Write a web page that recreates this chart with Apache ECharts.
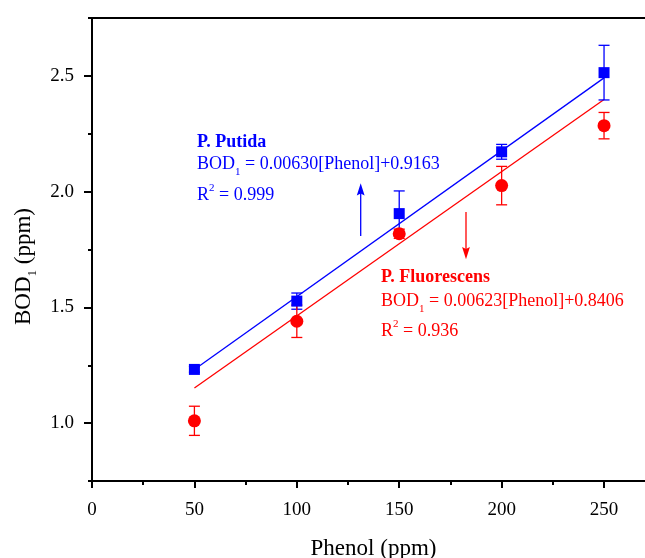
<!DOCTYPE html>
<html>
<head>
<meta charset="utf-8">
<script src="https://cdn.jsdelivr.net/npm/echarts@6/dist/echarts.min.js"></script>
<style>
html,body{margin:0;padding:0;background:#fff;}
#chart{width:645px;height:558px;}
</style>
</head>
<body>
<div id="chart"></div>
<script>
// ---- data ----
const phenol = [50, 100, 150, 200, 250];
const putidaBOD = [1.232, 1.527, 1.905, 2.172, 2.514];
const putidaErr = [0.012, 0.035, 0.098, 0.032, 0.118];
const fluoBOD = [1.010, 1.440, 1.818, 2.026, 2.285];
const fluoErr = [0.063, 0.070, 0.020, 0.083, 0.057];
const fitX = [50, 250];
const putidaFit = [1.2313, 2.4913];
const fluoFit = [1.1521, 2.3981];
const xMajor = [0, 50, 100, 150, 200, 250];
const xMinor = [25, 75, 125, 175, 225];
const yMajor = [1.0, 1.5, 2.0, 2.5];
const yMinor = [0.75, 1.25, 1.75, 2.25, 2.75];

const BLUE = '#0000ff', RED = '#ff0000';
const SERIF = '"Liberation Serif","Times New Roman",serif';

const chart = echarts.init(document.getElementById('chart'));

function errSeries(name, xs, ys, es, color) {
  return {
    name: name, type: 'custom', xAxisIndex: 0, yAxisIndex: 0,
    data: xs.map((x, i) => [x, ys[i], es[i]]),
    renderItem: function (params, api) {
      const x = api.value(0), y = api.value(1), e = api.value(2);
      const t = api.coord([x, y + e]);
      const b = api.coord([x, y - e]);
      const hw = 5.5;
      const st = { stroke: color, lineWidth: 1.3 };
      return {
        type: 'group',
        children: [
          { type: 'line', shape: { x1: t[0], y1: t[1], x2: b[0], y2: b[1] }, style: st },
          { type: 'line', shape: { x1: t[0] - hw, y1: t[1], x2: t[0] + hw, y2: t[1] }, style: st },
          { type: 'line', shape: { x1: b[0] - hw, y1: b[1], x2: b[0] + hw, y2: b[1] }, style: st }
        ]
      };
    },
    z: 3
  };
}

const axisLineStyle = { color: '#000', width: 2 };
const labelStyle = { fontFamily: SERIF, fontSize: 19, color: '#000' };

const option = {
  animation: false,
  backgroundColor: '#fff',
  grid: { left: 92, right: 0, top: 18, bottom: 77, containLabel: false, outerBoundsMode: 'none' },
  xAxis: [
    {
      type: 'value', min: 0, max: 270, position: 'bottom',
      axisLine: { show: true, onZero: false, lineStyle: axisLineStyle },
      axisTick: { show: true, inside: false, length: 7, customValues: xMajor, lineStyle: { color: '#000', width: 2 } },
      axisLabel: { show: true, customValues: xMajor, margin: 20, ...labelStyle },
      splitLine: { show: false },
      name: 'Phenol (ppm)', nameLocation: 'middle', nameGap: 56,
      nameTextStyle: { fontFamily: SERIF, fontSize: 23, color: '#000', padding: [0, 0, 0, 10] }
    },
    {
      type: 'value', min: 0, max: 270, position: 'bottom',
      axisLine: { show: false, onZero: false },
      axisTick: { show: true, inside: false, length: 4, customValues: xMinor, lineStyle: { color: '#000', width: 2 } },
      axisLabel: { show: false },
      splitLine: { show: false }
    },
    {
      type: 'value', min: 0, max: 270, position: 'top',
      axisLine: { show: true, onZero: false, lineStyle: axisLineStyle },
      axisTick: { show: false }, axisLabel: { show: false }, splitLine: { show: false }
    }
  ],
  yAxis: [
    {
      type: 'value', min: 0.75, max: 2.75, position: 'left',
      axisLine: { show: true, onZero: false, lineStyle: axisLineStyle },
      axisTick: { show: true, inside: false, length: 8, customValues: yMajor, lineStyle: { color: '#000', width: 2 } },
      axisLabel: { show: true, customValues: yMajor, margin: 18, formatter: v => v.toFixed(1), ...labelStyle },
      splitLine: { show: false },
      name: 'BOD{sub|1} (ppm)', nameLocation: 'middle', nameGap: 53, nameRotate: 90,
      nameTextStyle: {
        fontFamily: SERIF, fontSize: 23, color: '#000', padding: [0, 34, 0, 0], lineHeight: 30,
        rich: { sub: { fontFamily: SERIF, fontSize: 13, verticalAlign: 'bottom', lineHeight: 13, color: '#000' } }
      }
    },
    {
      type: 'value', min: 0.75, max: 2.75, position: 'left',
      axisLine: { show: false, onZero: false },
      axisTick: { show: true, inside: false, length: 4, customValues: yMinor, lineStyle: { color: '#000', width: 2 } },
      axisLabel: { show: false },
      splitLine: { show: false }
    }
  ],
  series: [
    {
      name: 'P. Putida fit', type: 'line', xAxisIndex: 0, yAxisIndex: 0,
      data: fitX.map((x, i) => [x, putidaFit[i]]),
      symbol: 'none', lineStyle: { color: BLUE, width: 1.3 }, z: 2, silent: true
    },
    {
      name: 'P. Fluorescens fit', type: 'line', xAxisIndex: 0, yAxisIndex: 0,
      data: fitX.map((x, i) => [x, fluoFit[i]]),
      symbol: 'none', lineStyle: { color: RED, width: 1.3 }, z: 2, silent: true
    },
    errSeries('P. Putida err', phenol, putidaBOD, putidaErr, BLUE),
    {
      name: 'P. Putida', type: 'scatter', xAxisIndex: 0, yAxisIndex: 0,
      data: phenol.map((x, i) => [x, putidaBOD[i]]),
      symbol: 'rect', symbolSize: 11, itemStyle: { color: BLUE, opacity: 1 }, z: 4
    },
    errSeries('P. Fluorescens err', phenol, fluoBOD, fluoErr, RED),
    {
      name: 'P. Fluorescens', type: 'scatter', xAxisIndex: 0, yAxisIndex: 0,
      data: phenol.map((x, i) => [x, fluoBOD[i]]),
      symbol: 'circle', symbolSize: 13, itemStyle: { color: RED, opacity: 1 }, z: 5
    }
  ],
  graphic: [
    { type: 'text', x: 197, y: 142.5, style: { text: 'P. Putida', font: 'bold 18px ' + SERIF, fill: BLUE, verticalAlign: 'middle' } },
    { type: 'text', x: 197, y: 164.5, style: {
        text: 'BOD{sub|1} = 0.00630[Phenol]+0.9163', font: '18px ' + SERIF, fill: BLUE, verticalAlign: 'middle', lineHeight: 26,
        rich: { sub: { font: '11px ' + SERIF, fill: BLUE, verticalAlign: 'bottom', lineHeight: 11 } } } },
    { type: 'text', x: 197, y: 195.5, style: {
        text: 'R{sup|2} = 0.999', font: '18px ' + SERIF, fill: BLUE, verticalAlign: 'middle', lineHeight: 25,
        rich: { sup: { font: '11px ' + SERIF, fill: BLUE, verticalAlign: 'top', lineHeight: 11 } } } },
    { type: 'text', x: 381, y: 277.8, style: { text: 'P. Fluorescens', font: 'bold 18px ' + SERIF, fill: RED, verticalAlign: 'middle' } },
    { type: 'text', x: 381, y: 301.2, style: {
        text: 'BOD{sub|1} = 0.00623[Phenol]+0.8406', font: '18px ' + SERIF, fill: RED, verticalAlign: 'middle', lineHeight: 26,
        rich: { sub: { font: '11px ' + SERIF, fill: RED, verticalAlign: 'bottom', lineHeight: 11 } } } },
    { type: 'text', x: 381, y: 331.2, style: {
        text: 'R{sup|2} = 0.936', font: '18px ' + SERIF, fill: RED, verticalAlign: 'middle', lineHeight: 25,
        rich: { sup: { font: '11px ' + SERIF, fill: RED, verticalAlign: 'top', lineHeight: 11 } } } },
    // arrows
    { type: 'line', shape: { x1: 360.7, y1: 236, x2: 360.7, y2: 192 }, style: { stroke: BLUE, lineWidth: 1.3 } },
    { type: 'polygon', shape: { points: [[360.7, 183.3], [356.8, 195.5], [360.7, 193.5], [364.6, 195.5]] }, style: { fill: BLUE } },
    { type: 'line', shape: { x1: 466, y1: 212, x2: 466, y2: 250 }, style: { stroke: RED, lineWidth: 1.3 } },
    { type: 'polygon', shape: { points: [[466, 259.3], [462.1, 247.1], [466, 249.1], [469.9, 247.1]] }, style: { fill: RED } }
  ]
};
chart.setOption(option);
</script>
</body>
</html>
